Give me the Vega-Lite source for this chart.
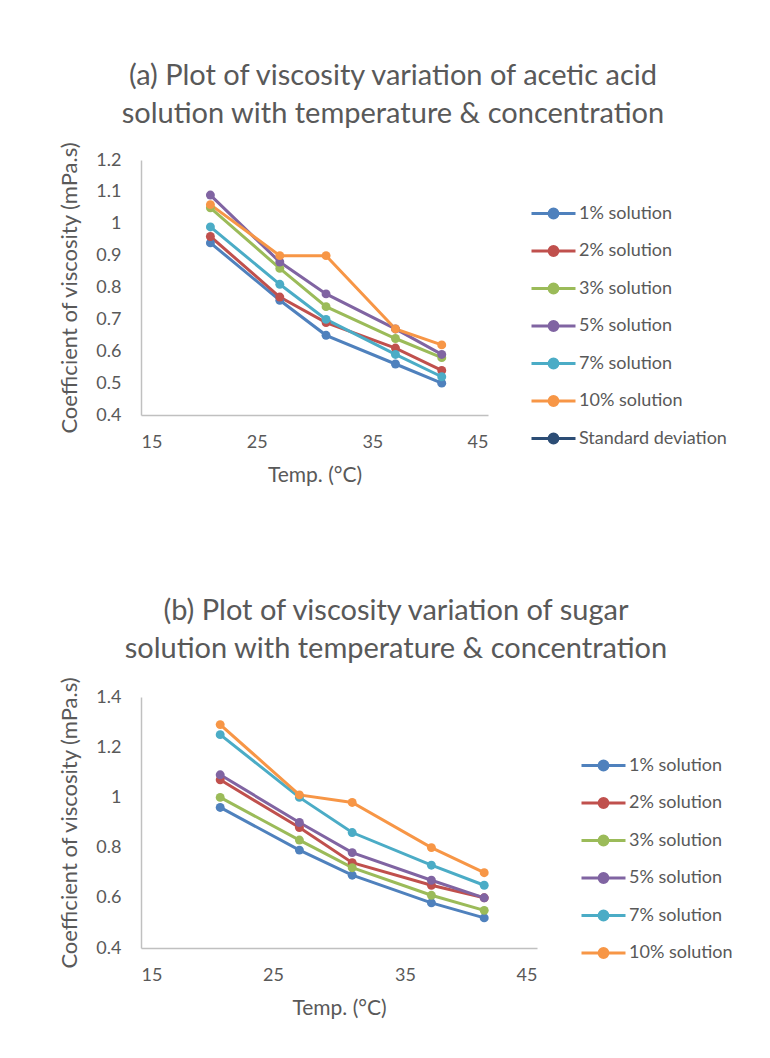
{
  "$schema": "https://vega.github.io/schema/vega-lite/v6.json",
  "padding": {"left": 58, "top": 62, "right": 5, "bottom": 5},
  "background": "white",
  "spacing": 112,
  "datasets": {
    "acetic": [
      {"series": "1% solution", "temp": 21, "v": 0.94},
      {"series": "1% solution", "temp": 27, "v": 0.76},
      {"series": "1% solution", "temp": 31, "v": 0.65},
      {"series": "1% solution", "temp": 37, "v": 0.56},
      {"series": "1% solution", "temp": 41, "v": 0.50},
      {"series": "2% solution", "temp": 21, "v": 0.96},
      {"series": "2% solution", "temp": 27, "v": 0.77},
      {"series": "2% solution", "temp": 31, "v": 0.69},
      {"series": "2% solution", "temp": 37, "v": 0.61},
      {"series": "2% solution", "temp": 41, "v": 0.54},
      {"series": "3% solution", "temp": 21, "v": 1.05},
      {"series": "3% solution", "temp": 27, "v": 0.86},
      {"series": "3% solution", "temp": 31, "v": 0.74},
      {"series": "3% solution", "temp": 37, "v": 0.64},
      {"series": "3% solution", "temp": 41, "v": 0.58},
      {"series": "5% solution", "temp": 21, "v": 1.09},
      {"series": "5% solution", "temp": 27, "v": 0.88},
      {"series": "5% solution", "temp": 31, "v": 0.78},
      {"series": "5% solution", "temp": 37, "v": 0.67},
      {"series": "5% solution", "temp": 41, "v": 0.59},
      {"series": "7% solution", "temp": 21, "v": 0.99},
      {"series": "7% solution", "temp": 27, "v": 0.81},
      {"series": "7% solution", "temp": 31, "v": 0.70},
      {"series": "7% solution", "temp": 37, "v": 0.59},
      {"series": "7% solution", "temp": 41, "v": 0.52},
      {"series": "10% solution", "temp": 21, "v": 1.06},
      {"series": "10% solution", "temp": 27, "v": 0.90},
      {"series": "10% solution", "temp": 31, "v": 0.90},
      {"series": "10% solution", "temp": 37, "v": 0.67},
      {"series": "10% solution", "temp": 41, "v": 0.62}
    ],
    "sugar": [
      {"series": "1% solution", "temp": 21, "v": 0.96},
      {"series": "1% solution", "temp": 27, "v": 0.79},
      {"series": "1% solution", "temp": 31, "v": 0.69},
      {"series": "1% solution", "temp": 37, "v": 0.58},
      {"series": "1% solution", "temp": 41, "v": 0.52},
      {"series": "2% solution", "temp": 21, "v": 1.07},
      {"series": "2% solution", "temp": 27, "v": 0.88},
      {"series": "2% solution", "temp": 31, "v": 0.74},
      {"series": "2% solution", "temp": 37, "v": 0.65},
      {"series": "2% solution", "temp": 41, "v": 0.60},
      {"series": "3% solution", "temp": 21, "v": 1.00},
      {"series": "3% solution", "temp": 27, "v": 0.83},
      {"series": "3% solution", "temp": 31, "v": 0.72},
      {"series": "3% solution", "temp": 37, "v": 0.61},
      {"series": "3% solution", "temp": 41, "v": 0.55},
      {"series": "5% solution", "temp": 21, "v": 1.09},
      {"series": "5% solution", "temp": 27, "v": 0.90},
      {"series": "5% solution", "temp": 31, "v": 0.78},
      {"series": "5% solution", "temp": 37, "v": 0.67},
      {"series": "5% solution", "temp": 41, "v": 0.60},
      {"series": "7% solution", "temp": 21, "v": 1.25},
      {"series": "7% solution", "temp": 27, "v": 1.00},
      {"series": "7% solution", "temp": 31, "v": 0.86},
      {"series": "7% solution", "temp": 37, "v": 0.73},
      {"series": "7% solution", "temp": 41, "v": 0.65},
      {"series": "10% solution", "temp": 21, "v": 1.29},
      {"series": "10% solution", "temp": 27, "v": 1.01},
      {"series": "10% solution", "temp": 31, "v": 0.98},
      {"series": "10% solution", "temp": 37, "v": 0.80},
      {"series": "10% solution", "temp": 41, "v": 0.70}
    ]
  },
  "resolve": {"scale": {"x": "independent", "y": "independent"}, "legend": {"color": "independent"}},
  "vconcat": [
    {
      "title": {"text": ["(a) Plot of viscosity variation of acetic acid", "solution with temperature & concentration"]},
      "width": 347,
      "height": 255,
      "data": {"name": "acetic"},
      "encoding": {
        "x": {"field": "temp", "type": "quantitative", "title": "Temp. (°C)",
              "scale": {"domain": [15, 45], "nice": false, "zero": false},
              "axis": {"values": [15, 25, 35, 45]}},
        "y": {"field": "v", "type": "quantitative", "title": "Coefficient of viscosity (mPa.s)",
              "scale": {"domain": [0.4, 1.2], "nice": false, "zero": false},
              "axis": {"values": [0.4, 0.5, 0.6, 0.7, 0.8, 0.9, 1, 1.1, 1.2], "format": "~g"}},
        "color": {"field": "series", "type": "nominal",
                  "scale": {"domain": ["1% solution", "2% solution", "3% solution", "5% solution", "7% solution", "10% solution", "Standard deviation"],
                            "range": ["#4F81BD", "#C0504D", "#9BBB59", "#8064A2", "#4BACC6", "#F79646", "#2C4D75"]},
                  "legend": {"orient": "none", "legendX": 389, "legendY": 30, "title": null}}
      },
      "layer": [
        {"mark": {"type": "line", "strokeWidth": 3}},
        {"mark": {"type": "point", "filled": true, "size": 80, "opacity": 1}}
      ]
    },
    {
      "title": {"text": ["(b) Plot of viscosity variation of sugar", "solution with temperature & concentration"]},
      "width": 396,
      "height": 251,
      "data": {"name": "sugar"},
      "encoding": {
        "x": {"field": "temp", "type": "quantitative", "title": "Temp. (°C)",
              "scale": {"domain": [15, 45], "nice": false, "zero": false},
              "axis": {"values": [15, 25, 35, 45]}},
        "y": {"field": "v", "type": "quantitative", "title": "Coefficient of viscosity (mPa.s)",
              "scale": {"domain": [0.4, 1.4], "nice": false, "zero": false},
              "axis": {"values": [0.4, 0.6, 0.8, 1, 1.2, 1.4], "format": "~g"}},
        "color": {"field": "series", "type": "nominal",
                  "legend": {"orient": "none", "legendX": 439, "legendY": 45, "title": null,
                             "values": ["1% solution", "2% solution", "3% solution", "5% solution", "7% solution", "10% solution"]}}
      },
      "layer": [
        {"mark": {"type": "line", "strokeWidth": 3}},
        {"mark": {"type": "point", "filled": true, "size": 80, "opacity": 1}}
      ]
    }
  ],
  "config": {
    "font": "Lato",
    "view": {"stroke": null},
    "axis": {
      "grid": false, "ticks": false,
      "domainColor": "#c0c0c0", "domainWidth": 1.5,
      "labelColor": "#595959", "labelFontSize": 18, "labelFont": "Lato",
      "titleColor": "#595959", "titleFontSize": 21, "titleFontWeight": "normal", "titleFont": "Lato"
    },
    "axisX": {"labelPadding": 18, "titlePadding": 13},
    "axisY": {"labelPadding": 20, "titlePadding": 14, "titleFontSize": 22},
    "legend": {
      "labelColor": "#595959", "labelFontSize": 18, "labelFont": "Lato",
      "symbolType": "M-1,0L1,0M0.2,0A0.2,0.2,0,1,1,-0.2,0A0.2,0.2,0,1,1,0.2,0Z",
      "symbolSize": 1936, "symbolStrokeWidth": 3, "labelOffset": 2, "rowPadding": 3.5, "padding": 0
    },
    "title": {"font": "Lato", "fontSize": 29, "fontWeight": "normal", "color": "#595959", "lineHeight": 38, "anchor": "middle", "frame": "bounds", "offset": 12}
  }
}
